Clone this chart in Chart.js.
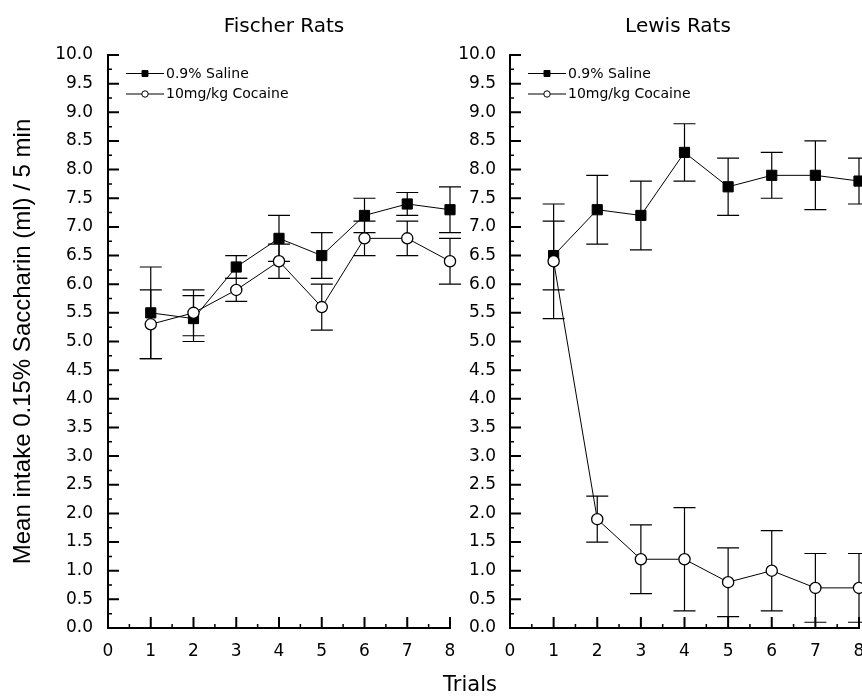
<!DOCTYPE html>
<html>
<head>
<meta charset="utf-8">
<script src="https://cdn.jsdelivr.net/npm/chart.js@4/dist/chart.umd.min.js"></script>
<style>
  html, body { margin: 0; padding: 0; background: #fff; width: 862px; height: 696px; overflow: hidden; }
  #wrap { position: relative; width: 862px; height: 696px; overflow: hidden; }
  canvas { position: absolute; top: 0; }
  #left { left: 0; }
  #right { left: 440px; }
  #xtitle { position: absolute; left: 410px; width: 120px; top: 674px; text-align: center;
            font: 21px "DejaVu Sans"; line-height: 21px; color: #000; }
</style>
</head>
<body>
<div id="wrap">
  <canvas id="left" width="470" height="696"></canvas>
  <canvas id="right" width="440" height="696"></canvas>
  <div id="xtitle"></div>
</div>
<script>
// ---- data ----
const trials = [1, 2, 3, 4, 5, 6, 7, 8];

const fischerSaline     = [5.5, 5.4, 6.3, 6.8, 6.5, 7.2, 7.4, 7.3];
const fischerSalineErr  = [0.8, 0.4, 0.2, 0.4, 0.4, 0.3, 0.2, 0.4];
const fischerCocaine    = [5.3, 5.5, 5.9, 6.4, 5.6, 6.8, 6.8, 6.4];
const fischerCocaineErr = [0.6, 0.4, 0.2, 0.3, 0.4, 0.3, 0.3, 0.4];

const lewisSaline       = [6.5, 7.3, 7.2, 8.3, 7.7, 7.9, 7.9, 7.8];
const lewisSalineErr    = [0.6, 0.6, 0.6, 0.5, 0.5, 0.4, 0.6, 0.4];
const lewisCocaine      = [6.4, 1.9, 1.2, 1.2, 0.8, 1.0, 0.7, 0.7];
const lewisCocaineErr   = [1.0, 0.4, 0.6, 0.9, 0.6, 0.7, 0.6, 0.6];

const xTickValues = [0, 1, 2, 3, 4, 5, 6, 7, 8];
const yTickValues = [0.0, 0.5, 1.0, 1.5, 2.0, 2.5, 3.0, 3.5, 4.0, 4.5, 5.0,
                     5.5, 6.0, 6.5, 7.0, 7.5, 8.0, 8.5, 9.0, 9.5, 10.0];

const seriesNames = ['0.9% Saline', '10mg/kg Cocaine'];
const panelTitles = ['Fischer Rats', 'Lewis Rats'];
const yAxisTitle  = 'Mean intake 0.15% Saccharin (ml) / 5 min';
const xAxisTitle  = 'Trials';

document.getElementById('xtitle').textContent = xAxisTitle;

const TICK_FONT = { family: 'DejaVu Sans', size: 17 };

// vertical error bars (mean ± error) with caps, drawn under the markers
const errorBars = {
  id: 'errorBars',
  beforeDatasetsDraw(chart) {
    const { ctx, scales: { x, y } } = chart;
    ctx.save();
    ctx.strokeStyle = '#000';
    ctx.lineWidth = 1.2;
    chart.data.datasets.forEach(ds => {
      ds.data.forEach((p, i) => {
        const e = ds.errors[i];
        const px = x.getPixelForValue(p.x);
        const top = y.getPixelForValue(p.y + e);
        const bot = y.getPixelForValue(p.y - e);
        ctx.beginPath();
        ctx.moveTo(px, top); ctx.lineTo(px, bot);
        ctx.moveTo(px - 11, top); ctx.lineTo(px + 11, top);
        ctx.moveTo(px - 11, bot); ctx.lineTo(px + 11, bot);
        ctx.stroke();
      });
    });
    ctx.restore();
  }
};

// axis lines with inward major/minor ticks, panel title and inline legend
const frame = {
  id: 'frame',
  beforeDatasetsDraw(chart) {
    const { ctx, chartArea: a, scales: { x, y } } = chart;
    ctx.save();
    ctx.strokeStyle = '#000';
    ctx.lineWidth = 2;
    ctx.beginPath();
    ctx.moveTo(a.left, a.top - 1);
    ctx.lineTo(a.left, a.bottom);
    ctx.lineTo(a.right + 1, a.bottom);
    y.ticks.forEach(t => {
      const py = y.getPixelForValue(t.value);
      ctx.moveTo(a.left, py); ctx.lineTo(a.left + 11, py);
    });
    x.ticks.forEach(t => {
      const px = x.getPixelForValue(t.value);
      ctx.moveTo(px, a.bottom); ctx.lineTo(px, a.bottom - 11);
    });
    ctx.stroke();
    ctx.lineWidth = 1.5;
    ctx.beginPath();
    for (let i = 0; i < y.ticks.length - 1; i++) {
      const py = y.getPixelForValue((y.ticks[i].value + y.ticks[i + 1].value) / 2);
      ctx.moveTo(a.left, py); ctx.lineTo(a.left + 4, py);
    }
    for (let i = 0; i < x.ticks.length - 1; i++) {
      const px = x.getPixelForValue((x.ticks[i].value + x.ticks[i + 1].value) / 2);
      ctx.moveTo(px, a.bottom); ctx.lineTo(px, a.bottom - 4);
    }
    ctx.stroke();
    ctx.restore();
  },
  afterDraw(chart, args, o) {
    const { ctx, chartArea: a } = chart;
    ctx.save();
    ctx.fillStyle = '#000';
    ctx.font = '20px "DejaVu Sans"';
    ctx.textAlign = 'center';
    ctx.textBaseline = 'alphabetic';
    ctx.fillText(o.title, o.titleX, 32);

    const L = a.left;
    chart.data.datasets.forEach((ds, i) => {
      const yy = a.top + 18.5 + i * 20.5;
      ctx.strokeStyle = '#000';
      ctx.lineWidth = 1;
      ctx.beginPath();
      ctx.moveTo(L + 18, yy); ctx.lineTo(L + 56, yy);
      ctx.stroke();
      ctx.fillStyle = ds.pointBackgroundColor;
      ctx.strokeStyle = ds.pointBorderColor;
      ctx.lineWidth = 1;
      Chart.helpers.drawPoint(ctx, {
        pointStyle: ds.pointStyle, radius: ds.legendRadius, borderWidth: 1, rotation: 0
      }, L + 37, yy);
      ctx.fillStyle = '#000';
      ctx.font = '14px "DejaVu Sans"';
      ctx.textAlign = 'left';
      ctx.textBaseline = 'middle';
      ctx.fillText(ds.label, L + 58, yy + 0.5);
    });
    ctx.restore();
  }
};

function panel(canvasId, title, sal, salErr, coc, cocErr, geo) {
  return new Chart(document.getElementById(canvasId), {
    type: 'line',
    data: {
      datasets: [
        {
          label: seriesNames[0],
          data: trials.map((t, i) => ({ x: t, y: sal[i] })),
          errors: salErr,
          order: 1,
          borderColor: '#000', borderWidth: 1, tension: 0, clip: false,
          pointStyle: 'rect', pointRadius: 7.2,
          pointBackgroundColor: '#000', pointBorderColor: '#000', pointBorderWidth: 1,
          legendRadius: 4.2
        },
        {
          label: seriesNames[1],
          data: trials.map((t, i) => ({ x: t, y: coc[i] })),
          errors: cocErr,
          order: 0,
          borderColor: '#000', borderWidth: 1, tension: 0, clip: false,
          pointStyle: 'circle', pointRadius: 5.6,
          pointBackgroundColor: '#fff', pointBorderColor: '#000', pointBorderWidth: 1.3,
          legendRadius: 3.2
        }
      ]
    },
    options: {
      responsive: false,
      animation: false,
      events: [],
      layout: { padding: { top: 55, right: geo.padRight, bottom: 0, left: 0 } },
      scales: {
        x: {
          type: 'linear', min: 0, max: 8,
          afterBuildTicks: s => { s.ticks = xTickValues.map(v => ({ value: v })); },
          afterFit: s => { s.height = 68; },
          grid: { display: false, drawTicks: false },
          border: { display: false },
          ticks: { font: TICK_FONT, color: '#000', padding: 13, maxRotation: 0, autoSkip: false,
                   callback: v => String(v) }
        },
        y: {
          type: 'linear', min: 0, max: 10,
          afterBuildTicks: s => { s.ticks = yTickValues.map(v => ({ value: v })); },
          afterFit: s => { s.width = geo.yWidth; },
          grid: { display: false, drawTicks: false },
          border: { display: false },
          ticks: { font: TICK_FONT, color: '#000', padding: geo.yPad, autoSkip: false,
                   callback: v => Number(v).toFixed(1) },
          title: geo.yTitle
            ? { display: true, text: yAxisTitle, color: '#000',
                font: { family: 'Liberation Sans', size: 24 },
                padding: { top: 9, bottom: 0 } }
            : { display: false }
        }
      },
      plugins: {
        legend: { display: false },
        tooltip: { enabled: false },
        frame: { title: title, titleX: geo.titleX }
      }
    },
    plugins: [errorBars, frame]
  });
}

panel('left', panelTitles[0], fischerSaline, fischerSalineErr, fischerCocaine, fischerCocaineErr,
      { padRight: 20, yWidth: 108, yPad: 15, yTitle: true, titleX: 284 });
panel('right', panelTitles[1], lewisSaline, lewisSalineErr, lewisCocaine, lewisCocaineErr,
      { padRight: 21, yWidth: 70, yPad: 14, yTitle: false, titleX: 238 });
</script>
</body>
</html>
